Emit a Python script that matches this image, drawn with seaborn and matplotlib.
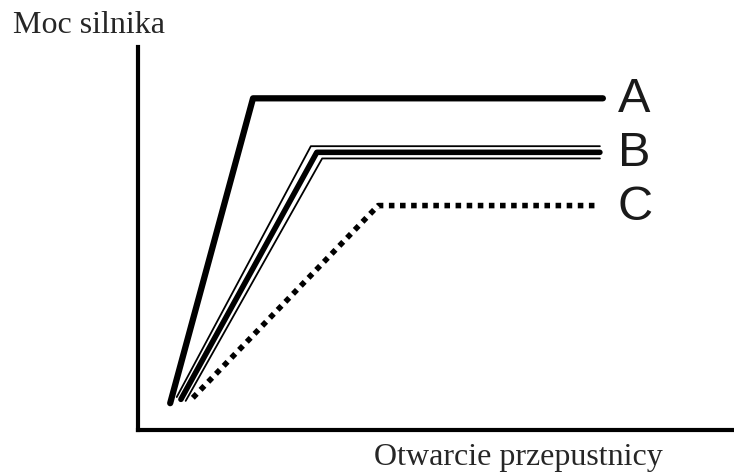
import pandas as pd
import matplotlib
matplotlib.use("Agg")
import matplotlib.pyplot as plt
import seaborn as sns

sns.set_style("white")

# Data: throttle opening (x) vs engine power (y), arbitrary units 0-100
x_a = [5.4, 19.3, 78.0]
y_a = [7.0, 86.6, 86.6]

x_b = [7.2, 30.0, 77.5]
y_b = [8.0, 72.5, 72.5]
x_b_top = [6.5, 29.0, 77.5]
y_b_top = [8.6, 74.1, 74.1]
x_b_bot = [8.0, 30.9, 77.5]
y_b_bot = [7.6, 70.9, 70.9]

x_c = [9.2, 40.3, 77.0]
y_c = [8.4, 58.6, 58.6]

labels = ["A", "B", "C"]
label_y = [87.5, 73.6, 59.5]

fig = plt.figure(figsize=(7.34, 4.72), dpi=100)
ax = fig.add_axes([138 / 734, 42 / 472, 596 / 734, 383 / 472])

sns.lineplot(x=x_a, y=y_a, ax=ax, color="black", lw=4.5, sort=False)
sns.lineplot(x=x_b_top, y=y_b_top, ax=ax, color="black", lw=1.3, sort=False)
sns.lineplot(x=x_b, y=y_b, ax=ax, color="black", lw=4, sort=False)
sns.lineplot(x=x_b_bot, y=y_b_bot, ax=ax, color="black", lw=1.3, sort=False)
sns.lineplot(x=x_c, y=y_c, ax=ax, color="black", lw=4, sort=False,
             linestyle=(0, (1, 1)))

for lab, yy in zip(labels, label_y):
    ax.text(80.5, yy, lab, fontsize=35, family="Liberation Sans",
            va="center_baseline", ha="left", color="#1a1a1a")

ax.set_xlim(0, 100)
ax.set_ylim(0, 100)
ax.set_xticks([])
ax.set_yticks([])
for side in ["top", "right"]:
    ax.spines[side].set_visible(False)
for side in ["left", "bottom"]:
    ax.spines[side].set_color("black")
    ax.spines[side].set_linewidth(3)

fig.text(13 / 734, 1 - 33 / 472, "Moc silnika", family="Liberation Serif",
         fontsize=23, va="baseline", ha="left")
fig.text(374 / 734, 1 - 465 / 472, "Otwarcie przepustnicy",
         family="Liberation Serif", fontsize=23, va="baseline", ha="left")

fig.savefig("out.png", dpi=100)
